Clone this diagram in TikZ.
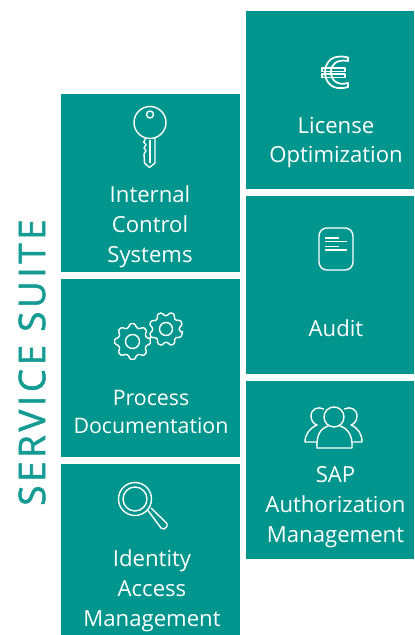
\documentclass[tikz,border=0pt]{standalone}
\usepackage{fontspec}
\setmainfont{Open Sans}
\definecolor{teal1}{HTML}{00958D}
\definecolor{teal2}{HTML}{149B93}
\tikzset{
  x=0.75pt,y=-0.75pt,
  tile/.style={fill=teal1,draw=none},
  lab/.style={text=white,align=center,font=\fontsize{16.6pt}{22.4pt}\selectfont,inner sep=0},
  ico/.style={draw=white,line width=1.05pt,line join=round,line cap=round},
  icof/.style={draw=white,line width=0.8pt},
}
\begin{document}
\begin{tikzpicture}
\useasboundingbox (0,0) rectangle (414,635);
\fill[white] (0,0) rectangle (414,635);
\fill[tile] (61,94) rectangle (240,272);
\fill[tile] (61,279) rectangle (240,457);
\fill[tile] (61,464) rectangle (240,635);
\fill[tile] (246,11) rectangle (414,189);
\fill[tile] (246,196) rectangle (414,374);
\fill[tile] (246,381) rectangle (414,559);
\node[lab] (ics) at (150,226.5) {Internal\\Control\\Systems};
\node[lab,font=\fontsize{16pt}{21pt}\selectfont] (pd) at (151,412) {Process\\Documentation};
\node[lab] (iam) at (152,590.5) {Identity\\Access\\Management};
\node[lab] (lo) at (336,142.5) {License\\Optimization};
\node[lab] (au) at (336,328) {Audit};
\node[lab] (sap) at (335.5,507.5) {SAP\\Authorization\\Management};
\node[rotate=90,text=teal2,font=\fontsize{27.5pt}{30pt}\selectfont\addfontfeature{LetterSpace=10,FakeBold=1.5}] (title) at (32,362.5) {SERVICE SUITE};
% key
\draw[ico] (150,122.5) circle[radius=16];
\draw[ico] (150,114.5) circle[radius=3.5];
\draw[ico] (145,138) -- (145,140) -- (143.5,142) -- (146,144.5) -- (144,148) -- (146,150.5) -- (144,154) -- (144.5,163) -- (149.5,167.5) -- (155,163) -- (155,138);
\draw[icof] (150,140) -- (150,163);
% gears
\foreach \cx/\cy/\ro/\ri/\rh/\st in {132.5/341.5/18/14.5/7/0,166/329/17/13.5/6.5/22}{
  \draw[ico,rounded corners=1pt] ({\cx+\ro*cos(\st-9)},{\cy+\ro*sin(\st-9)})
    \foreach \a in {0,45,...,315}{
      -- ({\cx+\ro*cos(\a+\st-9)},{\cy+\ro*sin(\a+\st-9)})
      -- ({\cx+\ro*cos(\a+\st+9)},{\cy+\ro*sin(\a+\st+9)})
      -- ({\cx+\ri*cos(\a+\st+14)},{\cy+\ri*sin(\a+\st+14)})
      -- ({\cx+\ri*cos(\a+\st+31)},{\cy+\ri*sin(\a+\st+31)})
    } -- cycle;
  \draw[ico] (\cx,\cy) circle[radius=\rh];
}
% magnifier
\draw[ico] (135,499) circle[radius=16.5];
\draw[ico] (135,499) circle[radius=12];
\draw[ico] (148,510.5) -- (161,528) -- (164,529) -- (167,526.5) -- (167,523.5) -- (151,508);
% euro
\begin{scope}[ico,line width=1.3pt]
\draw (348,57.5) .. controls (332,53.5) and (325.5,62) .. (325,72) .. controls (325,83) and (333,91.5) .. (348,87);
\draw (348,61) .. controls (337,59) and (331,64) .. (331,72) .. controls (331,80) and (337,86) .. (348,83);
\draw (348,57.5) -- (348,61);
\draw (348,83) -- (348,87);
\draw (322,68) -- (345,68) -- (345,71.5) -- (322,71.5) -- cycle;
\draw (322,74) -- (345,74) -- (345,77.5) -- (322,77.5) -- cycle;
\end{scope}
% audit
\draw[ico,rounded corners=6pt] (319,228) rectangle (353,270);
\draw[white,line width=1.4pt] (324.5,238) -- (339,238);
\draw[white,line width=1.1pt] (324.5,241.5) -- (347,241.5);
\draw[white,line width=1.4pt] (324.5,246.5) -- (339,246.5);
\draw[white,line width=1.1pt] (324.5,250) -- (347,250);
% people
\draw[ico] (334,417) circle[radius=10];
\draw[ico] (317,448) .. controls (316,435) and (321,428) .. (328,426);
\draw[ico] (340,426) .. controls (347,428) and (353,435) .. (352,448) -- (317,448);
\draw[ico] (323.5,409) .. controls (318,406) and (311,409) .. (311,416) .. controls (311,421) and (314,424) .. (317,425) .. controls (310,428) and (305,434) .. (305,442) -- (316,442);
\draw[ico] (344.5,409) .. controls (350,406) and (357,409) .. (357,416) .. controls (357,421) and (354,424) .. (351,425) .. controls (358,428) and (362,434) .. (362,442) -- (353,442);
\end{tikzpicture}
\end{document}
